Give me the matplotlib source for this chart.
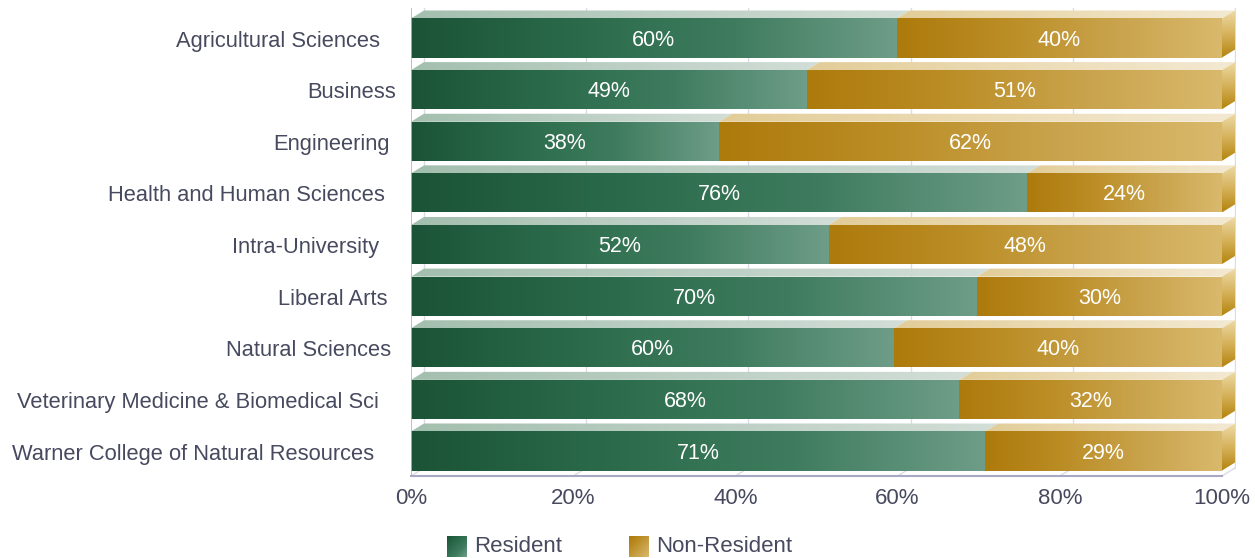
import numpy as np
import matplotlib
matplotlib.use('Agg')
import matplotlib.pyplot as plt
from matplotlib.colors import LinearSegmentedColormap
from matplotlib.patches import Polygon

plt.rcParams['font.family'] = ['Liberation Sans', 'DejaVu Sans']

colleges = ['Agricultural Sciences', 'Business', 'Engineering',
            'Health and Human Sciences', 'Intra-University', 'Liberal Arts',
            'Natural Sciences', 'Veterinary Medicine & Biomedical Sci',
            'Warner College of Natural Resources']
resident = [59.9, 48.8, 38.0, 76.0, 51.5, 69.8, 59.6, 67.6, 70.8]
non_resident = [100 - r for r in resident]
series_names = ['Resident', 'Non-Resident']

# right edge of each category label, in pixels (labels are not aligned)
label_right_px = [380, 396, 390, 385, 379, 388, 391, 379, 374]

txt = '#474a5e'
W, H = 1255, 558
px_per_pct = 8.11
x0_px = 411
ddx = 13 / px_per_pct     # 3d depth in x (percent units)
ddy = 8 / 51.625          # 3d depth in y (category units)
half = 0.378

cm_green = LinearSegmentedColormap.from_list('g', ['#1b5336', '#2a6a4a', '#3f7c5f', '#6e9d88'])
cm_gold = LinearSegmentedColormap.from_list('o', ['#ad7a0c', '#bb8d25', '#c9a34c', '#d9b96c'])
cm_green_top = LinearSegmentedColormap.from_list('gt', ['#a3bfae', '#bccfc4', '#d2ded7'])
cm_gold_top = LinearSegmentedColormap.from_list('ot', ['#e2cd98', '#ecdcb6', '#f3e9d2'])
cm_gold_side = LinearSegmentedColormap.from_list('os', ['#eedca8', '#d6b25c', '#b3830c'])

fig = plt.figure(figsize=(W / 100, H / 100), dpi=100)
ax = fig.add_axes([x0_px / W, 82 / H, 825 / W, 468 / H])
xmax = 100 + 14 / px_per_pct
ylo, yhi = 8.484, -0.581

grad_h = np.linspace(0, 1, 256).reshape(1, -1)
grad_v = np.linspace(0, 1, 256).reshape(-1, 1)


def shaded(verts, cmap, grad, z):
    poly = Polygon(verts, closed=True, facecolor='none', edgecolor='none')
    ax.add_patch(poly)
    xs = [v[0] for v in verts]
    ys = [v[1] for v in verts]
    im = ax.imshow(grad, cmap=cmap, aspect='auto', interpolation='bilinear',
                   extent=[min(xs), max(xs), max(ys), min(ys)], zorder=z)
    im.set_clip_path(poly)


# back wall gridlines + floor
for v in range(0, 101, 20):
    ax.plot([v + ddx, v + ddx], [yhi, ylo - ddy], color='#dcdce6', lw=1, zorder=0)
    ax.plot([v, v + ddx], [ylo, ylo - ddy], color='#dcdce6', lw=1, zorder=0)
ax.plot([0, 0], [yhi, ylo], color='#b4b4cc', lw=1.2, zorder=5)
ax.plot([0, 100], [ylo, ylo], color='#a8a8c2', lw=1.5, zorder=5, clip_on=False)

for i, (r, n) in enumerate(zip(resident, non_resident)):
    yt, yb = i - half, i + half
    segs = [(0, r, cm_green, cm_green_top), (r, r + n, cm_gold, cm_gold_top)]
    for a, b, cm_f, cm_t in segs:
        shaded([(a, yb), (b, yb), (b, yt), (a, yt)], cm_f, grad_h, 3)
        shaded([(a, yt), (b, yt), (b + ddx, yt - ddy), (a + ddx, yt - ddy)], cm_t, grad_h, 2)
        ax.text((a + b) / 2, i + 0.04, '%d%%' % round(b - a), color='white',
                fontsize=15.5, ha='center', va='center', zorder=6)
    shaded([(100, yt), (100 + ddx, yt - ddy), (100 + ddx, yb - ddy), (100, yb)],
           cm_gold_side, grad_v, 2)
    ax.text((label_right_px[i] - x0_px) / px_per_pct, i + 0.06, colleges[i], color=txt,
            fontsize=15.75, ha='right', va='center', clip_on=False)

ax.set_xlim(0, xmax)
ax.set_ylim(ylo, yhi)
ax.set_xticks(range(0, 101, 20))
ax.set_xticklabels(['%d%%' % v for v in range(0, 101, 20)])
ax.set_yticks([])
ax.tick_params(axis='x', length=0, pad=9, labelsize=16, labelcolor=txt)
for s in ax.spines.values():
    s.set_visible(False)

# legend
lax = fig.add_axes([0, 0, 1, 1], zorder=-1)
lax.set_xlim(0, W)
lax.set_ylim(H, 0)
lax.axis('off')
diag = np.add.outer(np.linspace(0, 1, 32), np.linspace(0, 1, 32)) / 2
for name, cm, x in [(series_names[0], cm_green, 447), (series_names[1], cm_gold, 629)]:
    lax.imshow(diag, cmap=cm, extent=[x, x + 20, 557, 536], aspect='auto', interpolation='bilinear')
    lax.text(x + 27, 546, name, color=txt, fontsize=16, ha='left', va='center')
lax.set_xlim(0, W)
lax.set_ylim(H, 0)

fig.savefig('out.png', dpi=100)
